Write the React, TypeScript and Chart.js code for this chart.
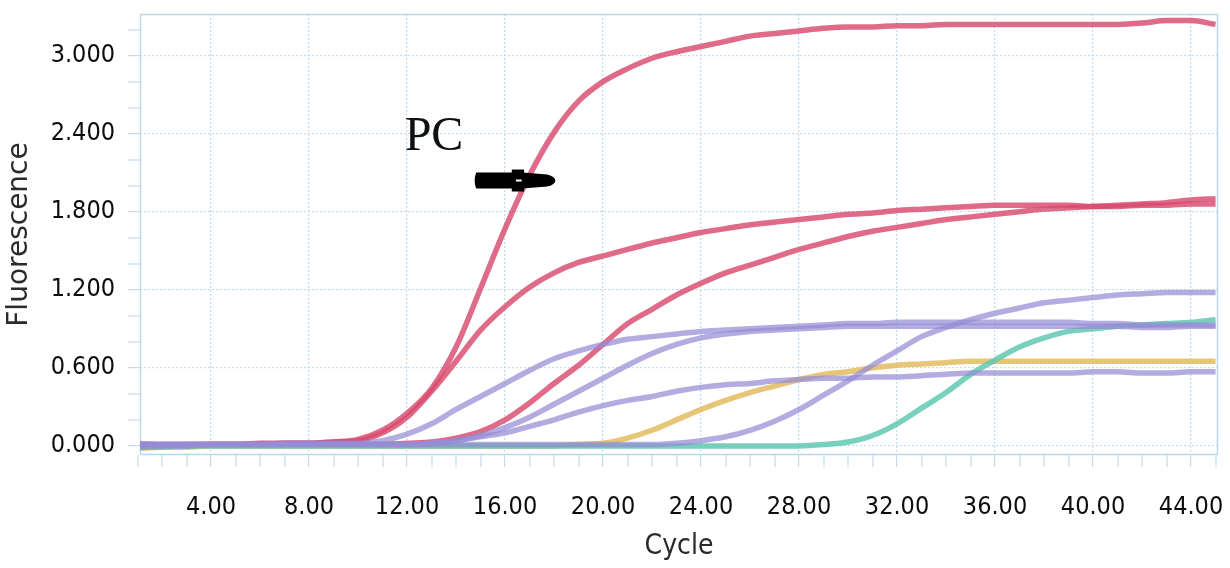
import React, { useEffect, useRef } from "react";
import { Chart, registerables } from "chart.js";

Chart.register(...registerables);

const cycles = Array.from({ length: 45 }, (_, i) => i + 1);

const pcRed = [
  -0.01, 0.0, 0.0, 0.01, 0.01, 0.01, 0.02, 0.02, 0.03, 0.05,
  0.12, 0.25, 0.44, 0.76, 1.21, 1.67, 2.08, 2.41, 2.65, 2.8,
  2.9, 2.98, 3.03, 3.07, 3.11, 3.15, 3.17, 3.19, 3.21, 3.22,
  3.22, 3.23, 3.23, 3.24, 3.24, 3.24, 3.24, 3.24, 3.24, 3.24,
  3.24, 3.25, 3.27, 3.27, 3.24,
];
const red2 = [
  0.0, 0.0, 0.01, 0.01, 0.01, 0.02, 0.02, 0.02, 0.03, 0.04,
  0.1, 0.22, 0.42, 0.65, 0.89, 1.07, 1.22, 1.33, 1.41, 1.46,
  1.51, 1.56, 1.6, 1.64, 1.67, 1.7, 1.72, 1.74, 1.76, 1.78,
  1.79, 1.81, 1.82, 1.83, 1.84, 1.85, 1.85, 1.85, 1.85, 1.84,
  1.84, 1.85, 1.85, 1.86, 1.86,
];
const red3 = [
  0.01, 0.01, 0.01, 0.01, 0.01, 0.01, 0.01, 0.01, 0.01, 0.01,
  0.01, 0.02, 0.03, 0.06, 0.11, 0.2, 0.33, 0.48, 0.62, 0.78,
  0.94, 1.05, 1.16, 1.25, 1.33, 1.39, 1.45, 1.51, 1.56, 1.61,
  1.65, 1.68, 1.71, 1.74, 1.76, 1.78, 1.8, 1.82, 1.83, 1.84,
  1.85, 1.86, 1.87, 1.89, 1.9,
];
const purple1 = [
  0.02, 0.01, 0.01, 0.01, 0.01, 0.01, 0.02, 0.02, 0.02, 0.02,
  0.04, 0.09, 0.17, 0.28, 0.38, 0.48, 0.58, 0.67, 0.73, 0.78,
  0.82, 0.84, 0.86, 0.88, 0.89, 0.9, 0.91, 0.92, 0.93, 0.94,
  0.94, 0.95, 0.95, 0.95, 0.95, 0.95, 0.95, 0.95, 0.95, 0.94,
  0.94, 0.93, 0.93, 0.93, 0.93,
];
const purple2 = [
  0.0, 0.01, 0.01, 0.01, 0.01, 0.01, 0.01, 0.01, 0.01, 0.01,
  0.01, 0.01, 0.02, 0.04, 0.08, 0.14, 0.22, 0.32, 0.42, 0.52,
  0.62, 0.71, 0.78, 0.83, 0.86, 0.88, 0.89, 0.9, 0.91, 0.92,
  0.92, 0.92, 0.92, 0.92, 0.92, 0.92, 0.92, 0.92, 0.92, 0.92,
  0.92, 0.91, 0.91, 0.92, 0.92,
];
const purple3 = [
  -0.01, 0.0, 0.0, 0.01, 0.01, 0.01, 0.01, 0.01, 0.01, 0.01,
  0.01, 0.01, 0.02, 0.04, 0.07, 0.1, 0.15, 0.2, 0.26, 0.31,
  0.35, 0.38, 0.42, 0.45, 0.47, 0.48, 0.5, 0.51, 0.52, 0.52,
  0.53, 0.53, 0.54, 0.55, 0.56, 0.56, 0.56, 0.56, 0.56, 0.57,
  0.57, 0.56, 0.56, 0.57, 0.57,
];
const purple4 = [
  0.01, 0.01, 0.01, 0.01, 0.01, 0.01, 0.01, 0.01, 0.01, 0.01,
  0.01, 0.01, 0.01, 0.01, 0.01, 0.01, 0.01, 0.01, 0.01, 0.01,
  0.01, 0.01, 0.02, 0.04, 0.07, 0.12, 0.19, 0.28, 0.39, 0.5,
  0.62, 0.73, 0.84, 0.91, 0.97, 1.02, 1.06, 1.1, 1.12, 1.14,
  1.16, 1.17, 1.18, 1.18, 1.18,
];
const yellow = [
  -0.02, -0.01, -0.01, 0.0, 0.0, 0.0, 0.0, 0.0, 0.0, 0.0,
  0.0, 0.0, 0.0, 0.0, 0.0, 0.0, 0.0, 0.0, 0.01, 0.02,
  0.06, 0.12, 0.2, 0.28, 0.35, 0.41, 0.46, 0.51, 0.55, 0.57,
  0.6, 0.62, 0.63, 0.64, 0.65, 0.65, 0.65, 0.65, 0.65, 0.65,
  0.65, 0.65, 0.65, 0.65, 0.65,
];
const teal = [
  -0.01, -0.01, 0.0, 0.0, 0.0, 0.0, 0.0, 0.0, 0.0, 0.0,
  0.0, 0.0, 0.0, 0.0, 0.0, 0.0, 0.0, 0.0, 0.0, 0.0,
  0.0, 0.0, 0.0, 0.0, 0.0, 0.0, 0.0, 0.0, 0.01, 0.03,
  0.08, 0.17, 0.29, 0.41, 0.55, 0.66, 0.76, 0.83, 0.88, 0.9,
  0.92, 0.93, 0.94, 0.95, 0.97,
];

const xMajorTicks = [4, 8, 12, 16, 20, 24, 28, 32, 36, 40, 44];
const xMinorTicks = cycles;
const yMajorTicks = [0, 0.6, 1.2, 1.8, 2.4, 3.0];
const yMinorTicks = [0, 0.2, 0.4, 0.6, 0.8, 1.0, 1.2, 1.4, 1.6, 1.8, 2.0, 2.2, 2.4, 2.6, 2.8, 3.0, 3.2];

const annotationText = "PC";
const annotationPos = { x: 13.1, y: 2.37 };
const arrowFrom = { x: 14.7, y: 2.04 };
const arrowTo = { x: 18.05, y: 2.04 };

const RED = "rgba(216, 74, 110, 0.82)";
const PURPLE = "rgba(150, 140, 214, 0.72)";
const YELLOW = "rgba(228, 188, 96, 0.85)";
const TEAL = "rgba(96, 200, 178, 0.85)";
const GRID = "#c4dced";

const tickFont = "'DejaVu Sans Condensed', 'DejaVu Sans', sans-serif";

const isMajor = (list: number[], v: number) => list.some((m) => Math.abs(m - v) < 1e-6);

const frameAndNotes = {
  id: "frameAndNotes",
  beforeDatasetsDraw(chart: any) {
    const { ctx, chartArea } = chart;
    ctx.save();
    ctx.strokeStyle = "#bcd5e8";
    ctx.lineWidth = 1.5;
    ctx.strokeRect(chartArea.left + 0.5, chartArea.top + 0.5, chartArea.right - chartArea.left - 1, chartArea.bottom - chartArea.top - 1);
    ctx.restore();
  },
  afterDatasetsDraw(chart: any) {
    const { ctx } = chart;
    const xs = chart.scales.x;
    const ys = chart.scales.y;
    ctx.save();
    ctx.fillStyle = "#111";
    ctx.font = "48px 'Liberation Serif', 'DejaVu Serif', serif";
    ctx.textAlign = "center";
    ctx.textBaseline = "middle";
    ctx.fillText(annotationText, xs.getPixelForValue(annotationPos.x), ys.getPixelForValue(annotationPos.y));

    const x1 = xs.getPixelForValue(arrowFrom.x);
    const x2 = xs.getPixelForValue(arrowTo.x);
    const y = ys.getPixelForValue(arrowFrom.y);
    const len = x2 - x1;
    ctx.fillStyle = "#000";
    // shaft
    ctx.beginPath();
    ctx.moveTo(x1 + 3, y - 8);
    ctx.lineTo(x1 + len * 0.5, y - 8);
    ctx.lineTo(x1 + len * 0.5, y + 8);
    ctx.lineTo(x1 + 3, y + 8);
    ctx.quadraticCurveTo(x1, y, x1 + 3, y - 8);
    ctx.fill();
    // flange
    ctx.fillRect(x1 + len * 0.47, y - 11, len * 0.15, 22);
    // head
    ctx.beginPath();
    ctx.moveTo(x1 + len * 0.6, y - 8);
    ctx.lineTo(x2 - 8, y - 6);
    ctx.quadraticCurveTo(x2, y - 4, x2, y);
    ctx.quadraticCurveTo(x2, y + 4, x2 - 8, y + 6);
    ctx.lineTo(x1 + len * 0.6, y + 8);
    ctx.closePath();
    ctx.fill();
    ctx.fillStyle = "#fff";
    ctx.fillRect(x1 + len * 0.52, y - 1, len * 0.07, 2);
    ctx.restore();
  },
};

function series(values: number[], color: string) {
  return {
    data: cycles.map((c, i) => ({ x: c, y: values[i] })),
    borderColor: color,
    backgroundColor: color,
    borderWidth: 5.5,
    pointRadius: 0,
    fill: false,
    tension: 0.4,
    cubicInterpolationMode: "monotone" as const,
  };
}

export default function App() {
  const ref = useRef<HTMLCanvasElement | null>(null);
  useEffect(() => {
    if (!ref.current) return;
    const chart = new Chart(ref.current, {
      type: "line",
      data: {
        datasets: [
          series(purple3, PURPLE),
          series(purple2, PURPLE),
          series(purple1, PURPLE),
          series(purple4, PURPLE),
          series(teal, TEAL),
          series(yellow, YELLOW),
          series(red3, RED),
          series(red2, RED),
          series(pcRed, RED),
        ],
      },
      options: {
        animation: false,
        responsive: true,
        maintainAspectRatio: false,
        layout: { padding: { top: 14, right: 12, left: 0, bottom: 0 } },
        plugins: { legend: { display: false }, tooltip: { enabled: false } },
        scales: {
          x: {
            type: "linear",
            min: 1.1,
            max: 45.1,
            afterFit: (s: any) => {
              s.height = 113;
              s.paddingLeft = 0;
              s.paddingRight = 0;
            },
            afterBuildTicks: (s: any) => {
              s.ticks = xMinorTicks.map((v) => ({ value: v }));
            },
            ticks: {
              autoSkip: false,
              maxRotation: 0,
              padding: 25,
              color: "#0d0d0d",
              font: { family: tickFont, size: 25 },
              callback: (v: any) => (isMajor(xMajorTicks, Number(v)) ? Number(v).toFixed(2) : ""),
            },
            grid: {
              color: GRID,
              lineWidth: (c: any) => (c.tick && isMajor(xMajorTicks, c.tick.value) ? 1.2 : 0),
              tickColor: GRID,
              tickLength: 12,
              tickWidth: 1.2,
            },
            border: { display: false, dash: [2, 2] },
            title: {
              display: true,
              text: "Cycle",
              color: "#2a2a2a",
              font: { family: tickFont, size: 28 },
              padding: { top: 0, bottom: 4 },
            },
          },
          y: {
            type: "linear",
            min: -0.07,
            max: 3.32,
            afterFit: (s: any) => {
              s.width = 140;
              s.paddingTop = 0;
              s.paddingBottom = 0;
            },
            afterBuildTicks: (s: any) => {
              s.ticks = yMinorTicks.map((v) => ({ value: v }));
            },
            ticks: {
              autoSkip: false,
              padding: 13,
              color: "#0d0d0d",
              font: { family: tickFont, size: 25 },
              callback: (v: any) => (isMajor(yMajorTicks, Number(v)) ? Number(v).toFixed(3) : ""),
            },
            grid: {
              color: GRID,
              lineWidth: (c: any) => (c.tick && isMajor(yMajorTicks, c.tick.value) ? 1.2 : 0),
              tickColor: GRID,
              tickLength: 12,
              tickWidth: 1.2,
            },
            border: { display: false, dash: [2, 2] },
            title: {
              display: true,
              text: "Fluorescence",
              color: "#2a2a2a",
              font: { family: "'DejaVu Sans', sans-serif", size: 28 },
              padding: { top: 3, bottom: 0 },
            },
          },
        },
      },
      plugins: [frameAndNotes],
    });
    return () => chart.destroy();
  }, []);
  return (
    <div style={{ position: "fixed", left: 0, top: 0, width: 1230, height: 568, background: "#fff" }}>
      <canvas ref={ref} />
    </div>
  );
}
